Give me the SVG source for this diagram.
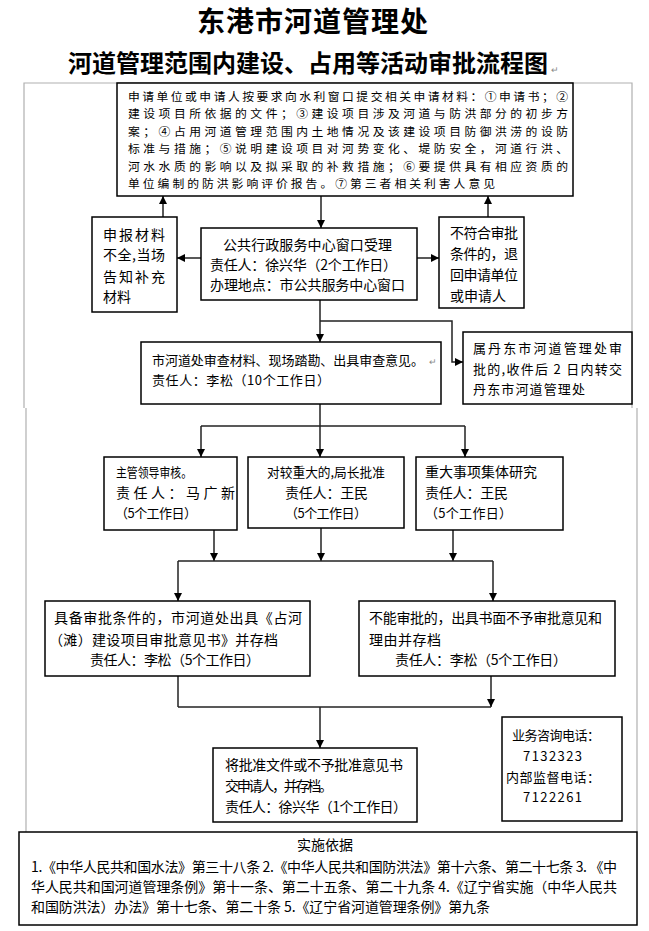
<svg xmlns="http://www.w3.org/2000/svg" width="649" height="931" viewBox="0 0 649 931">
<style>
text{font-family:"Noto Sans CJK SC","Liberation Sans",sans-serif;fill:#000}
.t{font-size:13px}
.s{font-size:11.8px}
.m{font-size:14px}
.h1{font-size:28px;font-weight:bold}
.h2{font-size:24px;font-weight:bold}
.pm{font-size:9px;fill:#888}
.box{fill:#fff;stroke:#000;stroke-width:1.5}
.frame{fill:none;stroke:#b0b0b0;stroke-width:1.2}
.c{fill:none;stroke:#222;stroke-width:1.5}
.ca{fill:none;stroke:#222;stroke-width:1.5;marker-end:url(#ah)}
</style>
<defs>
<marker id="ah" markerUnits="userSpaceOnUse" markerWidth="9" markerHeight="9" refX="8" refY="4" orient="auto">
<path d="M0,0 L8,4 L0,8 z" fill="#000"/>
</marker>
</defs>
<rect width="649" height="931" fill="#fff"/>
<g id="title">
<text class="h1" x="197" y="32" textLength="231" lengthAdjust="spacing">东港市河道管理处</text>
<text class="h2" x="68" y="72" textLength="480" lengthAdjust="spacing">河道管理范围内建设、占用等活动审批流程图</text>
<text class="pm" x="551" y="73">↵</text>
</g>
<g id="frame">
<polyline class="frame" points="24,408 24,83 632,83 632,408"/>
<line class="frame" x1="26" y1="408" x2="26" y2="832"/>
<line class="frame" x1="637" y1="408" x2="637" y2="832"/>
</g>
<g id="connectors">
<line class="ca" x1="321" y1="196" x2="321" y2="228"/>
<line class="ca" x1="201" y1="258" x2="177" y2="258"/>
<line class="ca" x1="163" y1="217" x2="163" y2="196"/>
<line class="ca" x1="417" y1="258" x2="439" y2="258"/>
<line class="ca" x1="488" y1="217" x2="488" y2="196"/>
<line class="ca" x1="320" y1="300" x2="320" y2="342"/>
<polyline class="ca" points="320,321 452,321 452,362 463,362"/>
<line class="c" x1="320" y1="404" x2="320" y2="426"/>
<line class="c" x1="201" y1="426" x2="465" y2="426"/>
<line class="ca" x1="201" y1="426" x2="201" y2="457"/>
<line class="ca" x1="320" y1="426" x2="320" y2="457"/>
<line class="ca" x1="465" y1="426" x2="465" y2="457"/>
<line class="ca" x1="214" y1="530" x2="214" y2="561"/>
<line class="ca" x1="321" y1="528" x2="321" y2="561"/>
<line class="ca" x1="453" y1="530" x2="453" y2="561"/>
<line class="c" x1="178" y1="561" x2="493" y2="561"/>
<line class="ca" x1="178" y1="561" x2="178" y2="601"/>
<line class="ca" x1="493" y1="561" x2="493" y2="601"/>
<line class="c" x1="178" y1="676" x2="178" y2="707"/>
<line class="ca" x1="491" y1="676" x2="491" y2="707"/>
<line class="c" x1="178" y1="707" x2="491" y2="707"/>
<line class="ca" x1="320" y1="707" x2="320" y2="748"/>
</g>
<g id="apply">
<rect class="box" x="117" y="83" width="456" height="113"/>
<text class="s" x="128" y="101" textLength="440" lengthAdjust="spacing">申请单位或申请人按要求向水利窗口提交相关申请材料：①申请书；②</text>
<text class="s" x="128" y="118" textLength="440" lengthAdjust="spacing">建设项目所依据的文件；③建设项目涉及河道与防洪部分的初步方</text>
<text class="s" x="128" y="135.5" textLength="440" lengthAdjust="spacing">案；④占用河道管理范围内土地情况及该建设项目防御洪涝的设防</text>
<text class="s" x="128" y="153" textLength="440" lengthAdjust="spacing">标准与措施；⑤说明建设项目对河势变化、堤防安全，河道行洪、</text>
<text class="s" x="128" y="170.5" textLength="440" lengthAdjust="spacing">河水水质的影响以及拟采取的补救措施；⑥要提供具有相应资质的</text>
<text class="s" x="128" y="188" textLength="367" lengthAdjust="spacing">单位编制的防洪影响评价报告。⑦第三者相关利害人意见</text>
</g>
<g id="incomplete">
<rect class="box" x="92" y="217" width="85" height="95"/>
<text class="m" x="103" y="240" textLength="62" lengthAdjust="spacing">申报材料</text>
<text class="m" x="103" y="260" textLength="62" lengthAdjust="spacing">不全,当场</text>
<text class="m" x="103" y="282" textLength="62" lengthAdjust="spacing">告知补充</text>
<text class="m" x="103" y="302">材料</text>
</g>
<g id="accept">
<rect class="box" x="201" y="228" width="216" height="72"/>
<text class="m" x="223" y="250" textLength="169" lengthAdjust="spacing">公共行政服务中心窗口受理</text>
<text class="m" x="210" y="270" textLength="187" lengthAdjust="spacing">责任人：徐兴华（2个工作日）</text>
<text class="m" x="210" y="290" textLength="195" lengthAdjust="spacing">办理地点：市公共服务中心窗口</text>
</g>
<g id="reject">
<rect class="box" x="439" y="217" width="85" height="91"/>
<text class="m" x="450" y="238" textLength="68" lengthAdjust="spacing">不符合审批</text>
<text class="m" x="450" y="259" textLength="68" lengthAdjust="spacing">条件的，退</text>
<text class="m" x="450" y="280" textLength="68" lengthAdjust="spacing">回申请单位</text>
<text class="m" x="450" y="301">或申请人</text>
</g>
<g id="review">
<rect class="box" x="141" y="342" width="300" height="62"/>
<text class="t" x="152" y="365" textLength="272" lengthAdjust="spacing">市河道处审查材料、现场踏勘、出具审查意见。</text>
<text class="pm" x="429" y="365">↵</text>
<text class="t" x="152" y="385" textLength="178" lengthAdjust="spacing">责任人：李松（10个工作日）</text>
</g>
<g id="dandong">
<rect class="box" x="463" y="332" width="169" height="72"/>
<text class="t" x="473" y="353" textLength="149" lengthAdjust="spacing">属丹东市河道管理处审</text>
<text class="t" x="473" y="374" textLength="149" lengthAdjust="spacing">批的,收件后 2 日内转交</text>
<text class="t" x="473" y="394" textLength="112" lengthAdjust="spacing">丹东市河道管理处</text>
</g>
<g id="leader">
<rect class="box" x="104" y="457" width="133" height="73"/>
<text class="t" x="116" y="477" textLength="76" lengthAdjust="spacingAndGlyphs">主管领导审核。</text>
<text class="m" x="116" y="498" textLength="119" lengthAdjust="spacing">责任人：马广新</text>
<text class="t" x="115" y="518" textLength="82" lengthAdjust="spacing">（5个工作日）</text>
</g>
<g id="director">
<rect class="box" x="248" y="457" width="156" height="71"/>
<text class="t" x="267" y="477" textLength="118" lengthAdjust="spacingAndGlyphs">对较重大的,局长批准</text>
<text class="m" x="285" y="498" textLength="83" lengthAdjust="spacing">责任人：王民</text>
<text class="t" x="285" y="518" textLength="82" lengthAdjust="spacing">（5个工作日）</text>
</g>
<g id="collective">
<rect class="box" x="416" y="457" width="147" height="73"/>
<text class="m" x="425" y="477" textLength="112" lengthAdjust="spacing">重大事项集体研究</text>
<text class="m" x="425" y="498" textLength="83" lengthAdjust="spacing">责任人：王民</text>
<text class="t" x="425" y="518" textLength="87" lengthAdjust="spacing">（5个工作日）</text>
</g>
<g id="approve">
<rect class="box" x="45" y="601" width="265" height="75"/>
<text class="m" x="54" y="623" textLength="248" lengthAdjust="spacing">具备审批条件的，市河道处出具《占河</text>
<text class="m" x="49" y="645" textLength="229" lengthAdjust="spacing">（滩）建设项目审批意见书》并存档</text>
<text class="m" x="90" y="665" textLength="170" lengthAdjust="spacing">责任人：李松（5个工作日）</text>
</g>
<g id="deny">
<rect class="box" x="359" y="601" width="256" height="75"/>
<text class="m" x="369" y="623" textLength="233" lengthAdjust="spacing">不能审批的，出具书面不予审批意见和</text>
<text class="m" x="369" y="645" textLength="72" lengthAdjust="spacing">理由并存档</text>
<text class="m" x="395" y="665" textLength="172" lengthAdjust="spacing">责任人：李松（5个工作日）</text>
</g>
<g id="deliver">
<rect class="box" x="213" y="748" width="204" height="74"/>
<text class="m" x="225" y="770" textLength="178" lengthAdjust="spacing">将批准文件或不予批准意见书</text>
<text class="m" x="225" y="791" textLength="108" lengthAdjust="spacing">交申请人，并存档。</text>
<text class="m" x="225" y="812" textLength="182" lengthAdjust="spacing">责任人：徐兴华（1个工作日）</text>
</g>
<g id="phone">
<rect class="box" x="502" y="717" width="120" height="104"/>
<text class="t" x="512" y="740" textLength="88" lengthAdjust="spacing">业务咨询电话：</text>
<text class="t" x="523" y="761" textLength="59" lengthAdjust="spacing">7132323</text>
<text class="t" x="506" y="782" textLength="94" lengthAdjust="spacing">内部监督电话：</text>
<text class="t" x="523" y="802" textLength="59" lengthAdjust="spacing">7122261</text>
</g>
<g id="basis">
<rect class="box" x="19" y="832" width="618" height="93"/>
<text class="m" x="325" y="850" text-anchor="middle">实施依据</text>
<text class="m" x="31" y="872" textLength="586" lengthAdjust="spacing">1.《中华人民共和国水法》第三十八条 2.《中华人民共和国防洪法》第十六条、第二十七条 3. 《中</text>
<text class="m" x="31" y="892" textLength="586" lengthAdjust="spacing">华人民共和国河道管理条例》第十一条、第二十五条、第二十九条 4.《辽宁省实施（中华人民共</text>
<text class="m" x="31" y="912" textLength="459" lengthAdjust="spacing">和国防洪法）办法》第十七条、第二十条 5.《辽宁省河道管理条例》第九条</text>
</g>
</svg>
